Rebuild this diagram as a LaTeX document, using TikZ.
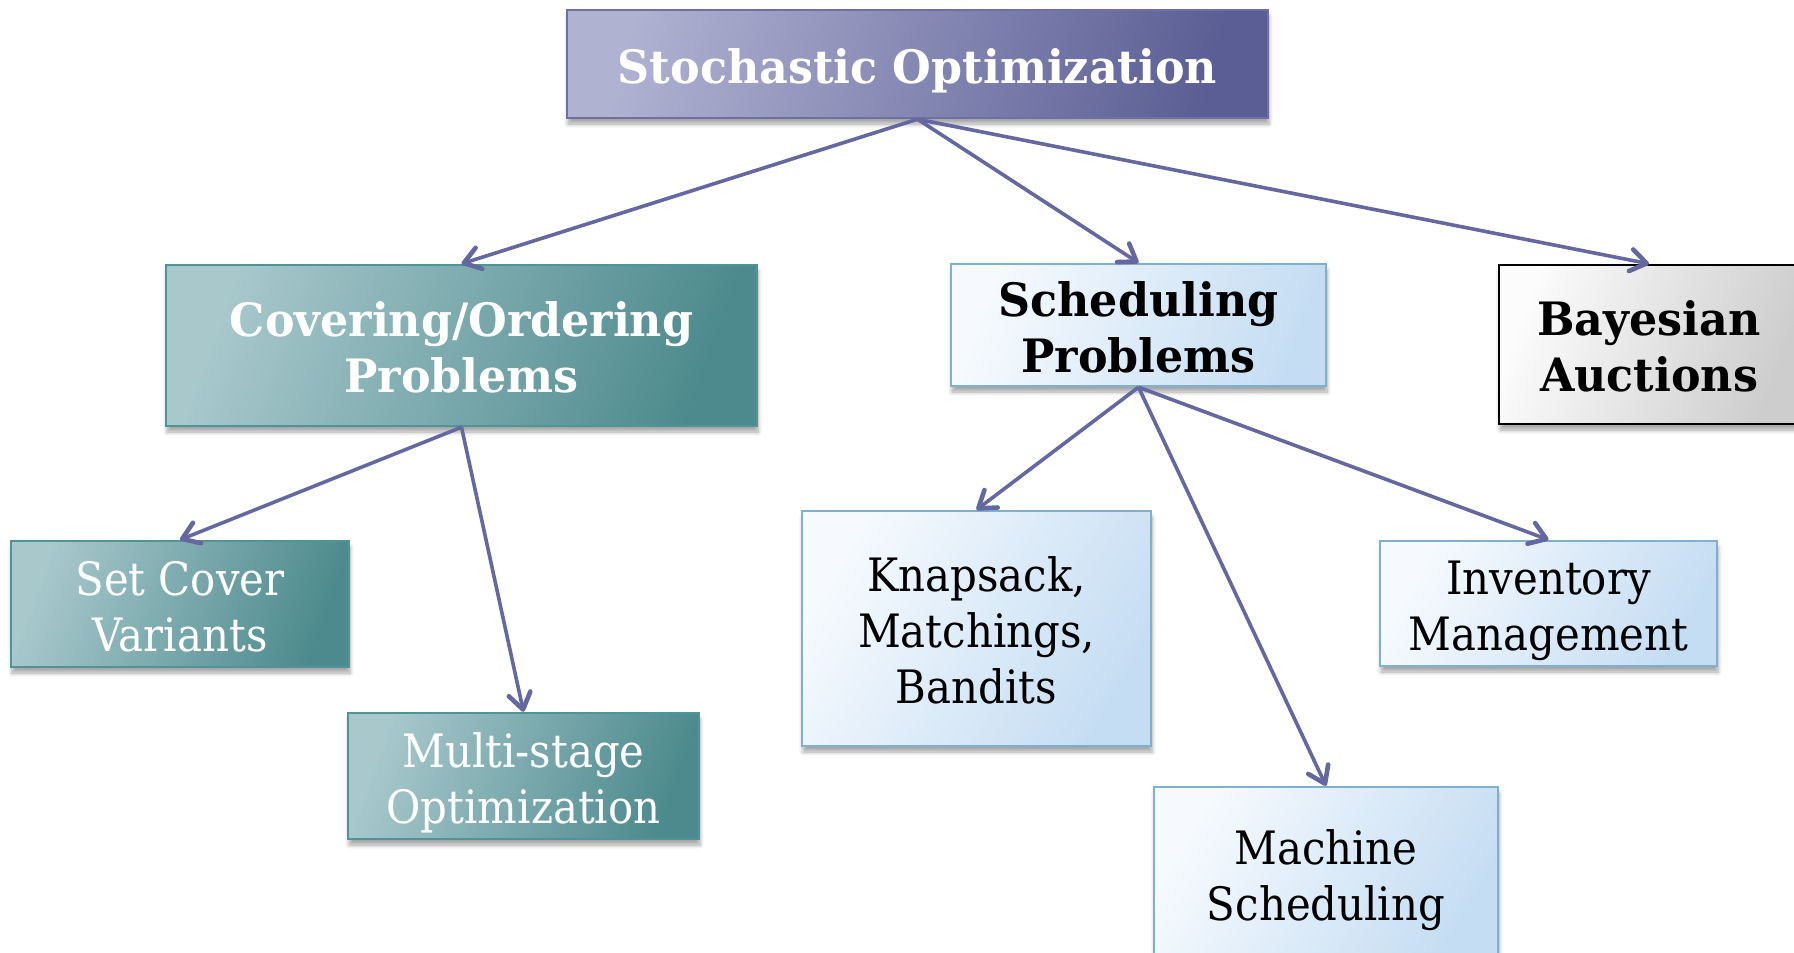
\documentclass[tikz,border=0pt]{standalone}
\usepackage{fontspec}
\setmainfont{DejaVu Serif}[FakeStretch=0.91]
\newfontfamily\headfont{DejaVu Serif}[FakeStretch=0.965]
\usetikzlibrary{arrows.meta,shadows.blur}

\definecolor{rootL}{HTML}{B0B2D2}
\definecolor{rootR}{HTML}{5B5E94}
\definecolor{rootEdge}{HTML}{6D6FA5}
\definecolor{tealL}{HTML}{A8C8CC}
\definecolor{tealR}{HTML}{4D8A8D}
\definecolor{tealEdge}{HTML}{4F9496}
\definecolor{blueL}{HTML}{F6FAFE}
\definecolor{blueR}{HTML}{C5DDF3}
\definecolor{blueEdge}{HTML}{7FB0CF}
\definecolor{grayL}{HTML}{FCFCFC}
\definecolor{grayR}{HTML}{CDCDCD}
\definecolor{linkc}{HTML}{6567A1}

% fixed first-line height and last-line depth keep every label
% vertically placed by its capital letters, whatever its descenders
\newcommand{\topstrut}{\rule{0pt}{25.3pt}}
\newcommand{\botstrut}{\rule[-6pt]{0pt}{6pt}}

\tikzset{
  boxsize/.style 2 args={minimum width=#1*0.5pt, minimum height=#2*0.5pt},
  box/.style={draw, line width=1.2pt, inner sep=0pt, align=center,
    font=\fontsize{23}{28}\selectfont,
    blur shadow={shadow xshift=0.5pt, shadow yshift=-3pt,
      shadow blur steps=6, shadow opacity=35}},
  headfont/.style={font=\headfont\bfseries\fontsize{23}{28}\selectfont},
  rootbox/.style={box, draw=rootEdge, left color=rootL, right color=rootR,
    shading angle=75, text=white, headfont},
  tealhead/.style={box, draw=tealEdge, left color=tealL, right color=tealR,
    shading angle=70, text=white, headfont},
  tealbox/.style={box, draw=tealEdge, left color=tealL, right color=tealR,
    shading angle=70, text=white},
  bluehead/.style={box, draw=blueEdge, left color=blueL, right color=blueR,
    shading angle=70, text=black, headfont},
  bluebox/.style={box, draw=blueEdge, left color=blueL, right color=blueR,
    shading angle=60, text=black},
  grayhead/.style={box, draw=black, left color=grayL, right color=grayR,
    shading angle=70, text=black, headfont},
  link/.style={draw=linkc, line width=1.8pt,
    -{Straight Barb[length=8pt,width=11pt,line width=2.3pt,round]}}
}

\begin{document}
\begin{tikzpicture}[x=0.5pt,y=-0.5pt]
\useasboundingbox (0,0) rectangle (1794,953);

% top level
\node[rootbox, boxsize={701}{108}] (root) at (917.5,64) {\topstrut Stochastic Optimization\botstrut};

% second level
\node[tealhead, boxsize={591}{161}] (cov) at (461.5,345.5) {\topstrut Covering/Ordering\\Problems\botstrut};
\node[bluehead, boxsize={375}{122}] (sch) at (1138.5,325) {\topstrut Scheduling\\Problems\botstrut};
\node[grayhead, boxsize={300}{159}] (bay) at (1649,344.5) {\topstrut Bayesian\\Auctions\botstrut};

% covering / ordering branch
\node[tealbox, boxsize={338}{126}] (setc) at (180,604) {\topstrut Set Cover\\Variants\botstrut};
\node[tealbox, boxsize={351}{126}] (multi) at (523.5,776) {\topstrut Multi-stage\\Optimization\botstrut};

% scheduling branch
\node[bluebox, boxsize={349}{235}] (knap) at (976.5,628.5) {\topstrut Knapsack,\\Matchings,\\Bandits\botstrut};
\node[bluebox, boxsize={337}{125}] (inv) at (1548.5,603.5) {\topstrut Inventory\\Management\botstrut};
\node[bluebox, boxsize={344}{172}] (mach) at (1326,873) {\topstrut Machine\\Scheduling\botstrut};

% connectors
\draw[link] (root.south) -- (cov.north);
\draw[link] (root.south) -- (sch.north);
\draw[link] (root.south) -- (bay.north);
\draw[link] (cov.south) -- (setc.north);
\draw[link] (cov.south) -- (multi.north);
\draw[link] (sch.south) -- (knap.north);
\draw[link] (sch.south) -- (mach.north);
\draw[link] (sch.south) -- (inv.north);
\end{tikzpicture}
\end{document}
